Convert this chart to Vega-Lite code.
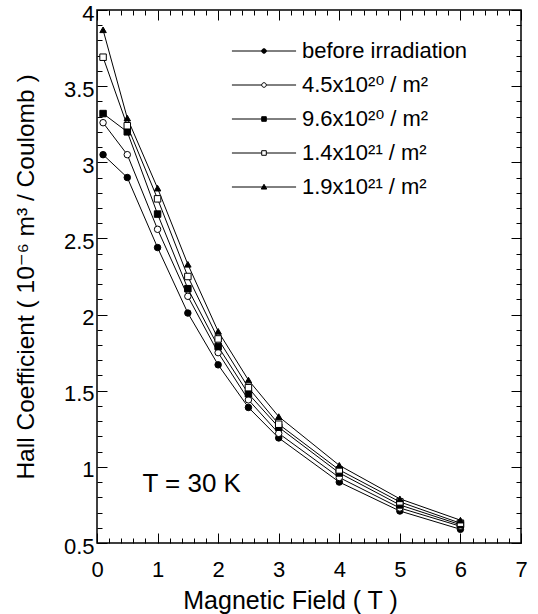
{
  "$schema": "https://vega.github.io/schema/vega-lite/v6.json",
  "width": 424,
  "height": 533,
  "autosize": "none",
  "padding": {"left": 97, "top": 10, "right": 17, "bottom": 71},
  "background": "white",
  "config": {
    "view": {"stroke": "black", "strokeWidth": 1.5},
    "font": "Liberation Sans",
    "axis": {
      "domain": false,
      "grid": false,
      "tickColor": "black",
      "tickWidth": 1,
      "labelColor": "black",
      "titleColor": "black",
      "labelFont": "Liberation Sans",
      "titleFont": "Liberation Sans, DejaVu Sans",
      "titleFontWeight": "normal",
      "labelFontSize": 22,
      "titleFontSize": 25
    }
  },
  "data": {
    "values": [
      {"series": "before irradiation", "x": 0.1, "y": 3.05},
      {"series": "before irradiation", "x": 0.5, "y": 2.90},
      {"series": "before irradiation", "x": 1, "y": 2.44},
      {"series": "before irradiation", "x": 1.5, "y": 2.01},
      {"series": "before irradiation", "x": 2, "y": 1.67},
      {"series": "before irradiation", "x": 2.5, "y": 1.39},
      {"series": "before irradiation", "x": 3, "y": 1.19},
      {"series": "before irradiation", "x": 4, "y": 0.90},
      {"series": "before irradiation", "x": 5, "y": 0.71},
      {"series": "before irradiation", "x": 6, "y": 0.59},
      {"series": "4.5x10²⁰ / m²", "x": 0.1, "y": 3.26},
      {"series": "4.5x10²⁰ / m²", "x": 0.5, "y": 3.05},
      {"series": "4.5x10²⁰ / m²", "x": 1, "y": 2.56},
      {"series": "4.5x10²⁰ / m²", "x": 1.5, "y": 2.12},
      {"series": "4.5x10²⁰ / m²", "x": 2, "y": 1.75},
      {"series": "4.5x10²⁰ / m²", "x": 2.5, "y": 1.44},
      {"series": "4.5x10²⁰ / m²", "x": 3, "y": 1.22},
      {"series": "4.5x10²⁰ / m²", "x": 4, "y": 0.93},
      {"series": "4.5x10²⁰ / m²", "x": 5, "y": 0.73},
      {"series": "4.5x10²⁰ / m²", "x": 6, "y": 0.61},
      {"series": "9.6x10²⁰ / m²", "x": 0.1, "y": 3.32},
      {"series": "9.6x10²⁰ / m²", "x": 0.5, "y": 3.20},
      {"series": "9.6x10²⁰ / m²", "x": 1, "y": 2.66},
      {"series": "9.6x10²⁰ / m²", "x": 1.5, "y": 2.17},
      {"series": "9.6x10²⁰ / m²", "x": 2, "y": 1.79},
      {"series": "9.6x10²⁰ / m²", "x": 2.5, "y": 1.48},
      {"series": "9.6x10²⁰ / m²", "x": 3, "y": 1.26},
      {"series": "9.6x10²⁰ / m²", "x": 4, "y": 0.96},
      {"series": "9.6x10²⁰ / m²", "x": 5, "y": 0.75},
      {"series": "9.6x10²⁰ / m²", "x": 6, "y": 0.62},
      {"series": "1.4x10²¹ / m²", "x": 0.1, "y": 3.69},
      {"series": "1.4x10²¹ / m²", "x": 0.5, "y": 3.24},
      {"series": "1.4x10²¹ / m²", "x": 1, "y": 2.76},
      {"series": "1.4x10²¹ / m²", "x": 1.5, "y": 2.25},
      {"series": "1.4x10²¹ / m²", "x": 2, "y": 1.84},
      {"series": "1.4x10²¹ / m²", "x": 2.5, "y": 1.52},
      {"series": "1.4x10²¹ / m²", "x": 3, "y": 1.28},
      {"series": "1.4x10²¹ / m²", "x": 4, "y": 0.98},
      {"series": "1.4x10²¹ / m²", "x": 5, "y": 0.77},
      {"series": "1.4x10²¹ / m²", "x": 6, "y": 0.63},
      {"series": "1.9x10²¹ / m²", "x": 0.1, "y": 3.87},
      {"series": "1.9x10²¹ / m²", "x": 0.5, "y": 3.29},
      {"series": "1.9x10²¹ / m²", "x": 1, "y": 2.83},
      {"series": "1.9x10²¹ / m²", "x": 1.5, "y": 2.33},
      {"series": "1.9x10²¹ / m²", "x": 2, "y": 1.89},
      {"series": "1.9x10²¹ / m²", "x": 2.5, "y": 1.57},
      {"series": "1.9x10²¹ / m²", "x": 3, "y": 1.33},
      {"series": "1.9x10²¹ / m²", "x": 4, "y": 1.01},
      {"series": "1.9x10²¹ / m²", "x": 5, "y": 0.79},
      {"series": "1.9x10²¹ / m²", "x": 6, "y": 0.65}
    ]
  },
  "layer": [
    {
      "mark": {"type": "line", "color": "black", "strokeWidth": 1},
      "encoding": {
        "x": {
          "field": "x", "type": "quantitative",
          "scale": {"domain": [0, 7], "nice": false, "zero": false},
          "axis": {
            "orient": "bottom", "values": [0, 1, 2, 3, 4, 5, 6, 7], "format": "~g",
            "tickSize": -10, "labelPadding": 26, "labelFlush": false,
            "title": "Magnetic Field ( T )", "titleFontSize": 25, "titlePadding": 8, "titleX": 193
          }
        },
        "y": {
          "field": "y", "type": "quantitative",
          "scale": {"domain": [0.5, 4], "nice": false, "zero": false},
          "axis": {
            "orient": "left", "values": [0.5, 1, 1.5, 2, 2.5, 3, 3.5, 4], "format": "~g",
            "tickSize": -10, "labelPadding": 13, "labelFlush": false, "labelOffset": 3,
            "title": "Hall Coefficient ( 10⁻⁶ m³ / Coulomb )", "titleFontSize": 24.5, "titlePadding": 25
          }
        },
        "detail": {"field": "series"}
      }
    },
    {
      "mark": {"type": "point", "filled": true, "stroke": "black", "strokeWidth": 1, "size": 42, "opacity": 1},
      "encoding": {
        "x": {
          "field": "x", "type": "quantitative",
          "axis": {
            "orient": "bottom", "labels": false, "title": null, "tickSize": -5,
            "values": [0.2, 0.4, 0.6, 0.8, 1.2, 1.4, 1.6, 1.8, 2.2, 2.4, 2.6, 2.8, 3.2, 3.4, 3.6, 3.8, 4.2, 4.4, 4.6, 4.8, 5.2, 5.4, 5.6, 5.8, 6.2, 6.4, 6.6, 6.8]
          }
        },
        "y": {
          "field": "y", "type": "quantitative",
          "axis": {
            "orient": "left", "labels": false, "title": null, "tickSize": -5,
            "values": [0.6, 0.7, 0.8, 0.9, 1.1, 1.2, 1.3, 1.4, 1.6, 1.7, 1.8, 1.9, 2.1, 2.2, 2.3, 2.4, 2.6, 2.7, 2.8, 2.9, 3.1, 3.2, 3.3, 3.4, 3.6, 3.7, 3.8, 3.9]
          }
        },
        "shape": {
          "field": "series", "type": "nominal",
          "scale": {
            "domain": ["before irradiation", "4.5x10²⁰ / m²", "9.6x10²⁰ / m²", "1.4x10²¹ / m²", "1.9x10²¹ / m²"],
            "range": ["circle", "circle", "square", "square", "triangle-up"]
          },
          "legend": null
        },
        "fill": {
          "field": "series", "type": "nominal",
          "scale": {
            "domain": ["before irradiation", "4.5x10²⁰ / m²", "9.6x10²⁰ / m²", "1.4x10²¹ / m²", "1.9x10²¹ / m²"],
            "range": ["black", "white", "black", "white", "black"]
          },
          "legend": null
        }
      }
    },
    {
      "data": {"values": [{"label": "T = 30 K"}]},
      "mark": {"type": "text", "fontSize": 26, "align": "left", "baseline": "alphabetic", "color": "black", "font": "Liberation Sans"},
      "encoding": {
        "x": {
          "datum": 0.75, "type": "quantitative",
          "axis": {"orient": "top", "labels": false, "title": null, "tickSize": -10, "values": [0, 1, 2, 3, 4, 5, 6, 7]}
        },
        "y": {
          "datum": 0.835, "type": "quantitative",
          "axis": {"orient": "right", "labels": false, "title": null, "tickSize": -10, "values": [0.5, 1, 1.5, 2, 2.5, 3, 3.5, 4]}
        },
        "text": {"field": "label"}
      }
    },
    {
      "transform": [{"filter": "false"}],
      "mark": {"type": "point", "filled": true, "strokeWidth": 1, "size": 21},
      "encoding": {
        "x": {
          "field": "x", "type": "quantitative",
          "axis": {
            "orient": "top", "labels": false, "title": null, "tickSize": -5,
            "values": [0.2, 0.4, 0.6, 0.8, 1.2, 1.4, 1.6, 1.8, 2.2, 2.4, 2.6, 2.8, 3.2, 3.4, 3.6, 3.8, 4.2, 4.4, 4.6, 4.8, 5.2, 5.4, 5.6, 5.8, 6.2, 6.4, 6.6, 6.8]
          }
        },
        "y": {
          "field": "y", "type": "quantitative",
          "axis": {
            "orient": "right", "labels": false, "title": null, "tickSize": -5,
            "values": [0.6, 0.7, 0.8, 0.9, 1.1, 1.2, 1.3, 1.4, 1.6, 1.7, 1.8, 1.9, 2.1, 2.2, 2.3, 2.4, 2.6, 2.7, 2.8, 2.9, 3.1, 3.2, 3.3, 3.4, 3.6, 3.7, 3.8, 3.9]
          }
        },
        "shape": {
          "field": "series", "type": "nominal",
          "scale": {
            "domain": ["before irradiation", "4.5x10²⁰ / m²", "9.6x10²⁰ / m²", "1.4x10²¹ / m²", "1.9x10²¹ / m²"],
            "range": [
              "M-14,0H14M1,0A1,1 0 1,1 -1,0A1,1 0 1,1 1,0Z",
              "M-14,0H-1M1,0H14M1,0A1,1 0 1,1 -1,0A1,1 0 1,1 1,0Z",
              "M-14,0H14M-1,-1H1V1H-1Z",
              "M-14,0H-1M1,0H14M-1,-1H1V1H-1Z",
              "M-14,0H14M0,-1.2L1.2,0.9H-1.2Z"
            ]
          },
          "legend": {
            "title": null, "orient": "none", "legendX": 156, "legendY": 30,
            "padding": 0, "symbolSize": 21, "symbolStrokeWidth": 1,
            "symbolOpacity": 1, "labelFontSize": 22, "labelFont": "Liberation Sans, DejaVu Sans", "labelColor": "black",
            "labelOffset": 27, "rowPadding": 12, "labelLimit": 400
          }
        },
        "fill": {
          "field": "series", "type": "nominal",
          "scale": {
            "domain": ["before irradiation", "4.5x10²⁰ / m²", "9.6x10²⁰ / m²", "1.4x10²¹ / m²", "1.9x10²¹ / m²"],
            "range": ["black", "white", "black", "white", "black"]
          }
        },
        "stroke": {
          "field": "series", "type": "nominal",
          "scale": {
            "domain": ["before irradiation", "4.5x10²⁰ / m²", "9.6x10²⁰ / m²", "1.4x10²¹ / m²", "1.9x10²¹ / m²"],
            "range": ["black", "black", "black", "black", "black"]
          }
        }
      }
    }
  ],
  "resolve": {
    "axis": {"x": "independent", "y": "independent"},
    "scale": {"shape": "independent", "fill": "independent", "stroke": "independent"}
  }
}
